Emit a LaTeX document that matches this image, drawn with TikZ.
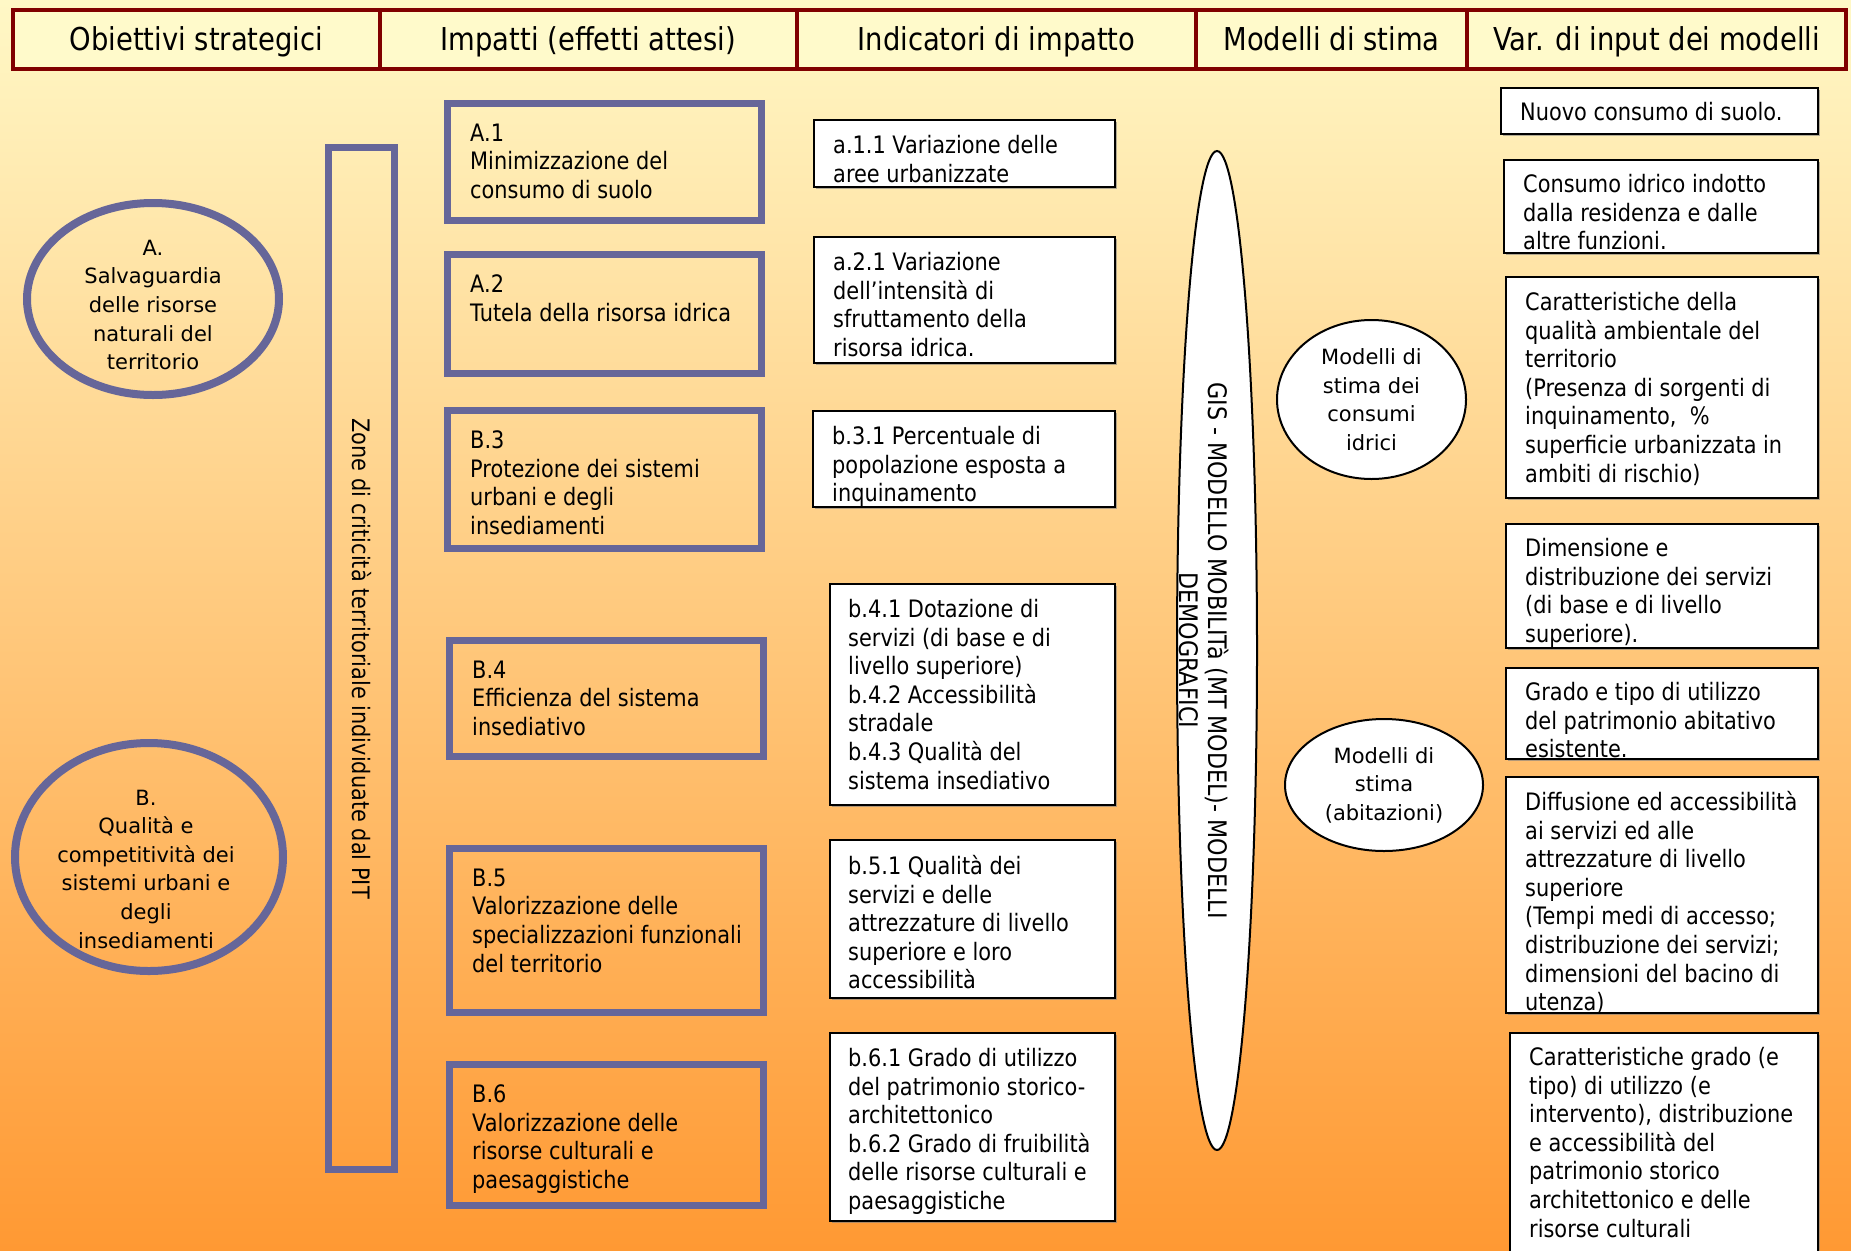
\documentclass[tikz,border=0pt]{standalone}
\usepackage{fontspec}
\setmainfont{DejaVu Sans}[FakeStretch=0.87]
\newfontfamily\ovalfont{DejaVu Sans}
\usepackage{tikz}
\usetikzlibrary{shapes.geometric,shadows}
\definecolor{rosso}{HTML}{800000}
\definecolor{blu}{HTML}{666699}
\definecolor{testata}{HTML}{FFFACB}
\definecolor{alto}{HTML}{FFF8C6}
\definecolor{basso}{HTML}{FF9933}

\begin{document}
\begin{tikzpicture}[x=1pt, y=-1pt,
    testa/.style = {draw=rosso, line width=4pt, fill=testata, minimum height=59pt, inner sep=0pt, text height=28pt, text depth=6pt, font=\fontsize{31.5}{36}\selectfont},
    obiettivo/.style = {draw=blu, line width=8pt, ellipse, inner sep=0pt},
    impatto/.style = {draw=blu, line width=7pt, inner sep=0pt},
    bianco/.style = {draw, line width=2pt, fill=white, inner sep=0pt, drop shadow={shadow xshift=2pt, shadow yshift=-2pt, fill=black!50, opacity=.6}},
    modello/.style = {draw, line width=2pt, fill=white, ellipse, inner sep=0pt},
    testo/.style = {anchor=north west, inner sep=0pt, align=left, font=\fontsize{24}{28.6}\selectfont},
    ovale/.style = {align=center, inner sep=0pt, font=\ovalfont\fontsize{21}{28.6}\selectfont}]
    \useasboundingbox (0,0) rectangle (1851,1250);
    \shade[top color=alto, bottom color=basso] (0,0) rectangle (1851,1250);

    \node[testa, minimum width=367pt] (h1) at (196.5,39.5) {Obiettivi strategici};
    \node[testa, minimum width=417pt] (h2) at (588.5,39.5) {Impatti (effetti attesi)};
    \node[testa, minimum width=399pt] (h3) at (996.5,39.5) {Indicatori di impatto};
    \node[testa, minimum width=271pt] (h4) at (1331.5,39.5) {Modelli di stima};
    \node[testa, minimum width=379pt] (h5) at (1656.5,39.5) {Var. di input dei modelli};

    \node[obiettivo, minimum width=252pt, minimum height=192pt] (A) at (153,299) {};
    \node[ovale] (At) at ([yshift=-6pt]A.center) {A.\\Salvaguardia\\delle risorse\\naturali del\\territorio};
    \node[obiettivo, minimum width=268pt, minimum height=228pt] (B) at (149,857) {};
    \node[ovale] (Bt) at ([xshift=-3pt, yshift=-12pt]B.center) {B.\\Qualità e\\competitività dei\\sistemi urbani e\\degli\\insediamenti};

    \node[impatto, minimum width=66pt, minimum height=1022pt] (zone) at (361.5,658.5) {};
    \node[rotate=-90, inner sep=0pt, font=\fontsize{24}{28.6}\selectfont] (zonet) at (zone.center) {Zone di criticità territoriale individuate dal PIT};

    \node[impatto, minimum width=314pt, minimum height=117pt] (A1) at (604.5,162) {};
    \node[testo] (A1t) at ([xshift=26pt, yshift=-23.5pt]A1.north west) {A.1\\Minimizzazione del\\consumo di suolo};
    \node[impatto, minimum width=314pt, minimum height=119pt] (A2) at (604.5,314) {};
    \node[testo] (A2t) at ([xshift=26pt, yshift=-23.5pt]A2.north west) {A.2\\Tutela della risorsa idrica};
    \node[impatto, minimum width=314pt, minimum height=138pt] (B3) at (604.5,479.5) {};
    \node[testo] (B3t) at ([xshift=26pt, yshift=-23.5pt]B3.north west) {B.3\\Protezione dei sistemi\\urbani e degli\\insediamenti};
    \node[impatto, minimum width=314pt, minimum height=116pt] (B4) at (606.5,698.5) {};
    \node[testo] (B4t) at ([xshift=26pt, yshift=-23.5pt]B4.north west) {B.4\\Efficienza del sistema\\insediativo};
    \node[impatto, minimum width=314pt, minimum height=164pt] (B5) at (606.5,930.5) {};
    \node[testo] (B5t) at ([xshift=26pt, yshift=-23.5pt]B5.north west) {B.5\\Valorizzazione delle\\specializzazioni funzionali\\del territorio};
    \node[impatto, minimum width=314pt, minimum height=141pt] (B6) at (606.5,1135) {};
    \node[testo] (B6t) at ([xshift=26pt, yshift=-23.5pt]B6.north west) {B.6\\Valorizzazione delle\\risorse culturali e\\paesaggistiche};

    \node[bianco, minimum width=301pt, minimum height=67pt] (a11) at (964.5,153.5) {};
    \node[testo] (a11t) at ([xshift=20pt, yshift=-16pt]a11.north west) {a.1.1 Variazione delle\\aree urbanizzate};
    \node[bianco, minimum width=301pt, minimum height=126pt] (a21) at (964.5,300) {};
    \node[testo] (a21t) at ([xshift=20pt, yshift=-16pt]a21.north west) {a.2.1 Variazione\\dell’intensità di\\sfruttamento della\\risorsa idrica.};
    \node[bianco, minimum width=302pt, minimum height=96pt] (b31) at (964,459) {};
    \node[testo] (b31t) at ([xshift=20pt, yshift=-16pt]b31.north west) {b.3.1 Percentuale di\\popolazione esposta a\\inquinamento};
    \node[bianco, minimum width=285pt, minimum height=221pt] (b41) at (972.5,694.5) {};
    \node[testo] (b41t) at ([xshift=19pt, yshift=-16pt]b41.north west) {b.4.1 Dotazione di\\servizi (di base e di\\livello superiore)\\b.4.2 Accessibilità\\stradale\\b.4.3 Qualità del\\sistema insediativo};
    \node[bianco, minimum width=285pt, minimum height=158pt] (b51) at (972.5,919) {};
    \node[testo] (b51t) at ([xshift=19pt, yshift=-16pt]b51.north west) {b.5.1 Qualità dei\\servizi e delle\\attrezzature di livello\\superiore e loro\\accessibilità};
    \node[bianco, minimum width=285pt, minimum height=188pt] (b61) at (972.5,1127) {};
    \node[testo] (b61t) at ([xshift=19pt, yshift=-16pt]b61.north west) {b.6.1 Grado di utilizzo\\del patrimonio storico-\\architettonico\\b.6.2 Grado di fruibilità\\delle risorse culturali e\\paesaggistiche};

    \node[modello, minimum width=80pt, minimum height=999pt] (gis) at (1217,650.5) {};
    \node[rotate=-90, align=center, inner sep=0pt, font=\fontsize{25.5}{29.5}\selectfont] (gist) at ([xshift=-13pt]gis.center) {GIS - MODELLO MOBILITà (MT MODEL)- MODELLI\\DEMOGRAFICI};
    \node[modello, minimum width=189pt, minimum height=159pt] (m1) at (1371.5,399.5) {};
    \node[ovale] (m1t) at (m1.center) {Modelli di\\stima dei\\consumi\\idrici};
    \node[modello, minimum width=198pt, minimum height=132pt] (m2) at (1384,785) {};
    \node[ovale] (m2t) at (m2.center) {Modelli di\\stima\\(abitazioni)};

    \node[bianco, minimum width=317pt, minimum height=46pt] (r1) at (1659.5,111) {};
    \node[testo] (r1t) at ([xshift=20pt, yshift=-15pt]r1.north west) {Nuovo consumo di suolo.};
    \node[bianco, minimum width=314pt, minimum height=93pt] (r2) at (1661,206.5) {};
    \node[testo] (r2t) at ([xshift=20pt, yshift=-15pt]r2.north west) {Consumo idrico indotto\\dalla residenza e dalle\\altre funzioni.};
    \node[bianco, minimum width=312pt, minimum height=221pt] (r3) at (1662,387.5) {};
    \node[testo] (r3t) at ([xshift=20pt, yshift=-16pt]r3.north west) {Caratteristiche della\\qualità ambientale del\\territorio\\(Presenza di sorgenti di\\inquinamento,~ \%\\superficie urbanizzata in\\ambiti di rischio)};
    \node[bianco, minimum width=312pt, minimum height=124pt] (r4) at (1662,586) {};
    \node[testo] (r4t) at ([xshift=20pt, yshift=-15pt]r4.north west) {Dimensione e\\distribuzione dei servizi\\(di base e di livello\\superiore).};
    \node[bianco, minimum width=312pt, minimum height=91pt] (r5) at (1662,713.5) {};
    \node[testo] (r5t) at ([xshift=20pt, yshift=-15pt]r5.north west) {Grado e tipo di utilizzo\\del patrimonio abitativo\\esistente.};
    \node[bianco, minimum width=312pt, minimum height=236pt] (r6) at (1662,895) {};
    \node[testo] (r6t) at ([xshift=20pt, yshift=-15pt]r6.north west) {Diffusione ed accessibilità\\ai servizi ed alle\\attrezzature di livello\\superiore\\(Tempi medi di accesso;\\distribuzione dei servizi;\\dimensioni del bacino di\\utenza)};
    \node[bianco, minimum width=308pt, minimum height=229pt] (r7) at (1664,1147.5) {};
    \node[testo] (r7t) at ([xshift=20pt, yshift=-15pt]r7.north west) {Caratteristiche grado (e\\tipo) di utilizzo (e\\intervento), distribuzione\\e accessibilità del\\patrimonio storico\\architettonico e delle\\risorse culturali};
\end{tikzpicture}
\end{document}
